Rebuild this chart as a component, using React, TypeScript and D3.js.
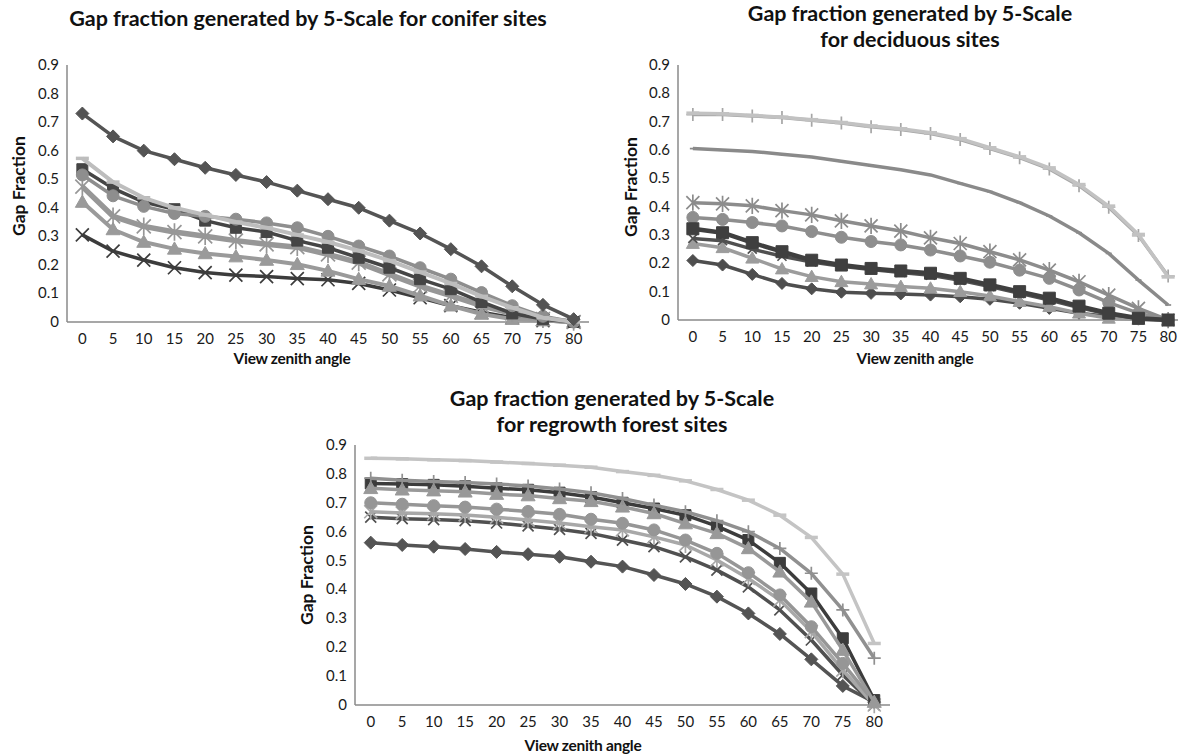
import React from 'react';
import * as d3 from 'd3';

// ---------- shared axis values ----------
const angles = [0, 5, 10, 15, 20, 25, 30, 35, 40, 45, 50, 55, 60, 65, 70, 75, 80];
const yTickValues = [0, 0.1, 0.2, 0.3, 0.4, 0.5, 0.6, 0.7, 0.8, 0.9];
const yTickLabels = ['0', '0.1', '0.2', '0.3', '0.4', '0.5', '0.6', '0.7', '0.8', '0.9'];

// ---------- conifer sites ----------
const coniferDiamond = [0.73, 0.65, 0.60, 0.57, 0.54, 0.515, 0.49, 0.46, 0.43, 0.40, 0.355, 0.31, 0.255, 0.195, 0.125, 0.06, 0.01];
const coniferSquare = [0.535, 0.468, 0.42, 0.395, 0.355, 0.33, 0.315, 0.285, 0.26, 0.225, 0.19, 0.15, 0.115, 0.07, 0.03, 0.01, 0.0];
const coniferDash = [0.573, 0.49, 0.435, 0.40, 0.375, 0.35, 0.33, 0.305, 0.28, 0.25, 0.215, 0.175, 0.135, 0.09, 0.05, 0.015, 0.0];
const coniferCircle = [0.515, 0.442, 0.405, 0.38, 0.37, 0.36, 0.347, 0.33, 0.30, 0.266, 0.231, 0.19, 0.15, 0.103, 0.057, 0.02, 0.0];
const coniferStar = [0.474, 0.37, 0.335, 0.315, 0.30, 0.285, 0.272, 0.262, 0.237, 0.208, 0.167, 0.126, 0.092, 0.057, 0.03, 0.01, 0.0];
const coniferTriangle = [0.42, 0.324, 0.28, 0.256, 0.24, 0.229, 0.217, 0.202, 0.179, 0.15, 0.126, 0.092, 0.057, 0.028, 0.01, 0.005, 0.0];
const coniferX = [0.305, 0.248, 0.217, 0.19, 0.173, 0.164, 0.159, 0.152, 0.148, 0.135, 0.112, 0.085, 0.057, 0.034, 0.015, 0.005, 0.0];

// ---------- deciduous sites ----------
const decidPlusTop = [0.725, 0.725, 0.72, 0.715, 0.705, 0.695, 0.682, 0.672, 0.658, 0.637, 0.605, 0.573, 0.533, 0.474, 0.398, 0.298, 0.155];
const decidDashTop = [0.73, 0.728, 0.722, 0.716, 0.707, 0.697, 0.685, 0.675, 0.661, 0.64, 0.608, 0.576, 0.537, 0.478, 0.402, 0.302, 0.152];
const decidDashMid = [0.605, 0.60, 0.595, 0.585, 0.575, 0.56, 0.545, 0.53, 0.512, 0.482, 0.453, 0.414, 0.367, 0.308, 0.235, 0.141, 0.053];
const decidStar = [0.414, 0.41, 0.403, 0.386, 0.371, 0.35, 0.332, 0.314, 0.29, 0.27, 0.241, 0.212, 0.176, 0.135, 0.088, 0.041, 0.0];
const decidCircle = [0.362, 0.355, 0.344, 0.332, 0.312, 0.292, 0.277, 0.265, 0.247, 0.226, 0.204, 0.176, 0.147, 0.106, 0.061, 0.024, 0.0];
const decidSquare = [0.322, 0.308, 0.273, 0.241, 0.211, 0.194, 0.182, 0.173, 0.165, 0.147, 0.124, 0.1, 0.077, 0.049, 0.024, 0.006, 0.0];
const decidX = [0.288, 0.28, 0.25, 0.225, 0.205, 0.19, 0.178, 0.168, 0.158, 0.14, 0.118, 0.094, 0.07, 0.044, 0.02, 0.005, 0.0];
const decidTriangle = [0.27, 0.255, 0.218, 0.18, 0.153, 0.135, 0.127, 0.118, 0.112, 0.1, 0.085, 0.065, 0.047, 0.024, 0.006, 0.002, 0.0];
const decidDiamond = [0.21, 0.194, 0.161, 0.129, 0.11, 0.098, 0.094, 0.092, 0.088, 0.082, 0.073, 0.059, 0.041, 0.024, 0.012, 0.003, 0.0];

// ---------- regrowth forest sites ----------
const regrowthDash = [0.854, 0.852, 0.849, 0.846, 0.841, 0.836, 0.83, 0.823, 0.808, 0.795, 0.776, 0.746, 0.709, 0.657, 0.58, 0.453, 0.213];
const regrowthPlus = [0.785, 0.778, 0.774, 0.77, 0.765, 0.758, 0.748, 0.735, 0.715, 0.692, 0.669, 0.638, 0.6, 0.542, 0.456, 0.329, 0.162];
const regrowthSquare = [0.767, 0.765, 0.762, 0.757, 0.75, 0.745, 0.735, 0.72, 0.70, 0.68, 0.657, 0.619, 0.571, 0.492, 0.386, 0.231, 0.017];
const regrowthTriangle = [0.75, 0.745, 0.742, 0.738, 0.73, 0.725, 0.715, 0.705, 0.686, 0.663, 0.628, 0.594, 0.542, 0.461, 0.357, 0.19, 0.01];
const regrowthCircle = [0.70, 0.695, 0.69, 0.685, 0.678, 0.67, 0.66, 0.643, 0.629, 0.606, 0.571, 0.525, 0.458, 0.381, 0.271, 0.144, 0.01];
const regrowthStar = [0.669, 0.665, 0.662, 0.658, 0.65, 0.64, 0.63, 0.617, 0.606, 0.582, 0.554, 0.502, 0.438, 0.363, 0.254, 0.121, 0.0];
const regrowthX = [0.65, 0.645, 0.642, 0.638, 0.63, 0.62, 0.608, 0.594, 0.571, 0.548, 0.513, 0.467, 0.409, 0.329, 0.225, 0.104, 0.0];
const regrowthDiamond = [0.562, 0.554, 0.548, 0.54, 0.53, 0.522, 0.513, 0.496, 0.479, 0.45, 0.419, 0.375, 0.317, 0.246, 0.158, 0.066, 0.01];

type Marker = 'diamond' | 'square' | 'triangle' | 'x' | 'star' | 'circle' | 'plus' | 'dash' | 'tick';

interface Series {
  values: number[];
  color: string;
  marker: Marker;
  width: number;
  msize: number;
}

interface PanelConfig {
  x0: number;
  x1: number;
  yTop: number;
  yBottom: number;
  title: string[];
  titleX: number;
  titleY: number;
  xTitleX: number;
  xTitleY: number;
  yTitleX: number;
  yTitleY: number;
  series: Series[];
}

const FONT = 'Lato, "Open Sans", "DejaVu Sans", sans-serif';

const panels: PanelConfig[] = [
  {
    x0: 67, x1: 589, yTop: 65, yBottom: 322,
    title: ['Gap fraction generated by 5-Scale for conifer sites'],
    titleX: 308, titleY: 26,
    xTitleX: 292, xTitleY: 364,
    yTitleX: 25, yTitleY: 186,
    series: [
      { values: coniferX, color: '#3c3c3c', marker: 'x', width: 3.5, msize: 6.5 },
      { values: coniferTriangle, color: '#9a9a9a', marker: 'triangle', width: 4, msize: 7 },
      { values: coniferStar, color: '#979797', marker: 'star', width: 5.5, msize: 7 },
      { values: coniferSquare, color: '#454545', marker: 'square', width: 3.5, msize: 5.5 },
      { values: coniferCircle, color: '#8e8e8e', marker: 'circle', width: 3.5, msize: 6 },
      { values: coniferDash, color: '#bdbdbd', marker: 'dash', width: 4, msize: 6.5 },
      { values: coniferDiamond, color: '#545454', marker: 'diamond', width: 3.5, msize: 6.5 },
    ],
  },
  {
    x0: 678, x1: 1183, yTop: 65, yBottom: 320,
    title: ['Gap fraction generated by 5-Scale', 'for deciduous sites'],
    titleX: 910, titleY: 21,
    xTitleX: 915, xTitleY: 364,
    yTitleX: 637, yTitleY: 187,
    series: [
      { values: decidDashMid, color: '#8a8a8a', marker: 'tick', width: 3.5, msize: 3 },
      { values: decidPlusTop, color: '#a6a6a6', marker: 'plus', width: 3.5, msize: 6.5 },
      { values: decidDashTop, color: '#c2c2c2', marker: 'dash', width: 3.5, msize: 6.5 },
      { values: decidStar, color: '#8c8c8c', marker: 'star', width: 3.5, msize: 6.5 },
      { values: decidCircle, color: '#8e8e8e', marker: 'circle', width: 3.5, msize: 6 },
      { values: decidDiamond, color: '#4e4e4e', marker: 'diamond', width: 3.5, msize: 6 },
      { values: decidTriangle, color: '#9c9c9c', marker: 'triangle', width: 3.5, msize: 6.5 },
      { values: decidX, color: '#505050', marker: 'x', width: 3.5, msize: 4.5 },
      { values: decidSquare, color: '#3f3f3f', marker: 'square', width: 4.5, msize: 6 },
    ],
  },
  {
    x0: 355, x1: 890, yTop: 445, yBottom: 705,
    title: ['Gap fraction generated by 5-Scale', 'for regrowth forest sites'],
    titleX: 612, titleY: 406,
    xTitleX: 583, xTitleY: 751,
    yTitleX: 313, yTitleY: 575,
    series: [
      { values: regrowthDiamond, color: '#545454', marker: 'diamond', width: 3.5, msize: 6.5 },
      { values: regrowthX, color: '#505050', marker: 'x', width: 3.5, msize: 5.5 },
      { values: regrowthStar, color: '#a8a8a8', marker: 'star', width: 3.5, msize: 6.5 },
      { values: regrowthCircle, color: '#969696', marker: 'circle', width: 3.5, msize: 6 },
      { values: regrowthSquare, color: '#3c3c3c', marker: 'square', width: 3.5, msize: 5.5 },
      { values: regrowthTriangle, color: '#999999', marker: 'triangle', width: 3.5, msize: 7 },
      { values: regrowthPlus, color: '#909090', marker: 'plus', width: 3.5, msize: 6.5 },
      { values: regrowthDash, color: '#c4c4c4', marker: 'dash', width: 3.5, msize: 6.5 },
    ],
  },
];

function markerPath(m: Marker, s: number): string {
  switch (m) {
    case 'diamond':
      return `M0,${-s}L${s},0L0,${s}L${-s},0Z`;
    case 'square':
      return `M${-s},${-s}H${s}V${s}H${-s}Z`;
    case 'triangle':
      return `M0,${-s}L${s},${s * 0.75}L${-s},${s * 0.75}Z`;
    case 'circle':
      return d3.symbol(d3.symbolCircle, Math.PI * s * s)() as string;
    case 'x':
      return `M${-s},${-s}L${s},${s}M${-s},${s}L${s},${-s}`;
    case 'star':
      return `M${-s},${-s}L${s},${s}M${-s},${s}L${s},${-s}M0,${-s * 1.25}V${s * 1.25}`;
    case 'plus':
      return `M${-s},0H${s}M0,${-s}V${s}`;
    case 'dash':
      return `M${-s},0H${s}`;
    case 'tick':
      return `M${-s},0H${s}`;
  }
  return '';
}

const filled = (m: Marker) => m === 'diamond' || m === 'square' || m === 'triangle' || m === 'circle';

function Panel({ cfg, idx }: { cfg: PanelConfig; idx: number }) {
  const x = d3.scalePoint<number>().domain(angles).range([cfg.x0, cfg.x1]).padding(0.5);
  const y = d3.scaleLinear().domain([0, 0.9]).range([cfg.yBottom, cfg.yTop]);
  const line = d3
    .line<number>()
    .x((_, i) => x(angles[i]) as number)
    .y((d) => y(d));
  const clipId = `clip-${idx}`;
  return (
    <g>
      <defs>
        <clipPath id={clipId}>
          <rect x={cfg.x0} y={cfg.yTop - 20} width={cfg.x1 - cfg.x0} height={cfg.yBottom - cfg.yTop + 40} />
        </clipPath>
      </defs>
      {/* title */}
      <text textAnchor="middle" fontFamily={FONT} fontWeight="bold" fontSize={21.5} fill="#111">
        {cfg.title.map((t, i) => (
          <tspan key={i} x={cfg.titleX} y={cfg.titleY + i * 25.5}>
            {t}
          </tspan>
        ))}
      </text>
      {/* axes */}
      <line x1={cfg.x0} x2={cfg.x0} y1={cfg.yTop} y2={cfg.yBottom} stroke="#8a8a8a" strokeWidth={1.5} />
      <line x1={cfg.x0} x2={Math.min(cfg.x1, 1178)} y1={cfg.yBottom} y2={cfg.yBottom} stroke="#8a8a8a" strokeWidth={1.5} />
      {yTickValues.map((v, i) => (
        <text key={i} x={cfg.x0 - 8} y={y(v) + 5} textAnchor="end" fontFamily={FONT} fontSize={15} fill="#1a1a1a">
          {yTickLabels[i]}
        </text>
      ))}
      {angles.map((a) => (
        <text key={a} x={x(a)} y={cfg.yBottom + 22} textAnchor="middle" fontFamily={FONT} fontSize={15} fill="#1a1a1a">
          {a}
        </text>
      ))}
      <text x={cfg.xTitleX} y={cfg.xTitleY} textAnchor="middle" fontFamily={FONT} fontWeight="bold" fontSize={15.5} fill="#111" letterSpacing={-0.3}>
        View zenith angle
      </text>
      <text
        transform={`translate(${cfg.yTitleX},${cfg.yTitleY}) rotate(-90)`}
        textAnchor="middle"
        fontFamily={FONT}
        fontWeight="bold"
        fontSize={17.5}
        fill="#111"
      >
        Gap Fraction
      </text>
      {/* series */}
      <g clipPath={`url(#${clipId})`}>
        {cfg.series.map((s, si) => (
          <g key={si}>
            <path d={line(s.values) as string} fill="none" stroke={s.color} strokeWidth={s.width} strokeLinejoin="round" />
            {s.values.map((v, i) => (
              <path
                key={i}
                transform={`translate(${x(angles[i])},${y(v)})`}
                d={markerPath(s.marker, s.msize)}
                fill={filled(s.marker) ? s.color : 'none'}
                stroke={s.color}
                strokeWidth={filled(s.marker) ? 1 : s.marker === 'dash' ? 3.5 : 1.7}
              />
            ))}
          </g>
        ))}
      </g>
    </g>
  );
}

export default function App() {
  return (
    <svg
      width={1180}
      height={756}
      viewBox="0 0 1180 756"
      style={{ position: 'absolute', left: 0, top: 0, background: '#fff' }}
    >
      <rect x={0} y={0} width={1180} height={756} fill="#fff" />
      {panels.map((p, i) => (
        <Panel key={i} cfg={p} idx={i} />
      ))}
    </svg>
  );
}
